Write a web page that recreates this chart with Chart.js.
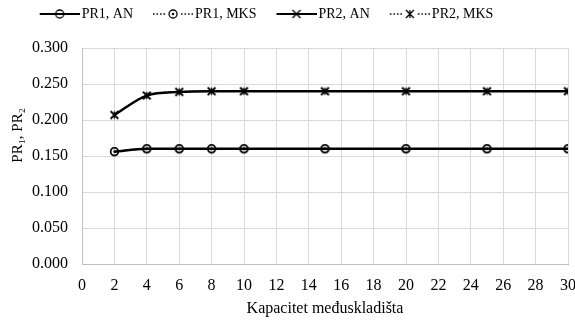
<!DOCTYPE html>
<html>
<head>
<meta charset="utf-8">
<script src="https://cdn.jsdelivr.net/npm/chart.js@4"></script>
<style>
  html, body { margin: 0; padding: 0; background: #fff; overflow: hidden; }
  #wrap { width: 588px; height: 320px; }
</style>
</head>
<body>
<div id="wrap"><canvas id="chart"></canvas></div>
<script>
// data
const capacity = [2, 4, 6, 8, 10, 15, 20, 25, 30];
const pr1An  = [0.156, 0.160, 0.160, 0.160, 0.160, 0.160, 0.160, 0.160, 0.160];
const pr1Mks = [0.156, 0.160, 0.160, 0.160, 0.160, 0.160, 0.160, 0.160, 0.160];
const pr2An  = [0.207, 0.234, 0.239, 0.240, 0.240, 0.240, 0.240, 0.240, 0.240];
const pr2Mks = [0.207, 0.234, 0.239, 0.240, 0.240, 0.240, 0.240, 0.240, 0.240];
const seriesNames = ['PR1, AN', 'PR1, MKS', 'PR2, AN', 'PR2, MKS'];

const FONT = "'Liberation Serif', 'Times New Roman', serif";

// marker drawing helpers
function drawMarker(ctx, kind, cx, cy, r) {
    ctx.strokeStyle = '#000';
    ctx.lineWidth = 1.3;
    ctx.beginPath();
    if (kind === 'circle' || kind === 'circleDot') {
        ctx.arc(cx, cy, r, 0, Math.PI * 2);
        ctx.stroke();
        if (kind === 'circleDot') {
            ctx.beginPath();
            ctx.arc(cx, cy, 1.2, 0, Math.PI * 2);
            ctx.fillStyle = '#000';
            ctx.fill();
        }
    } else {
        ctx.moveTo(cx - r, cy - r); ctx.lineTo(cx + r, cy + r);
        ctx.moveTo(cx - r, cy + r); ctx.lineTo(cx + r, cy - r);
        if (kind === 'star') {
            ctx.moveTo(cx, cy - r); ctx.lineTo(cx, cy + r);
        }
        ctx.stroke();
    }
}

function markerImage(kind) {
    const c = document.createElement('canvas');
    c.width = 11; c.height = 11;
    drawMarker(c.getContext('2d'), kind, 5.5, 5.5, 3.8);
    return c;
}

// legend symbol: line + marker, drawn in the right 40px of a 60px image
function legendImage(kind, dotted) {
    const c = document.createElement('canvas');
    c.width = 60; c.height = 14;
    const ctx = c.getContext('2d');
    ctx.strokeStyle = '#000';
    ctx.lineWidth = dotted ? 1.5 : 2.2;
    ctx.setLineDash(dotted ? [1.5, 2] : []);
    ctx.beginPath();
    ctx.moveTo(20, 7); ctx.lineTo(60, 7);
    ctx.stroke();
    ctx.setLineDash([]);
    if (dotted) {
        ctx.fillStyle = '#fff';
        ctx.fillRect(34, 1, 12, 12);
    }
    drawMarker(ctx, kind, 40, 7, 4);
    return c;
}

const kinds = ['circle', 'circleDot', 'crossRot', 'star'];
const dotted = [false, true, false, true];
const legendImgs = kinds.map((k, i) => legendImage(k, dotted[i]));

function toXY(values) {
    return capacity.map((x, i) => ({ x: x, y: values[i] }));
}

function lineSet(label, values, i) {
    return {
        label: label,
        data: toXY(values),
        borderColor: '#000',
        borderWidth: dotted[i] ? 1.5 : 2.4,
        borderDash: dotted[i] ? [1.5, 2] : [],
        backgroundColor: 'rgba(0,0,0,0)',
        cubicInterpolationMode: 'monotone',
        pointStyle: markerImage(kinds[i]),
        pointRadius: 4,
        fill: false
    };
}

// move the legend row up and to the left, like the original
const legendShift = {
    id: 'legendShift',
    afterLayout(chart) {
        chart.legend.left -= 35;
        chart.legend.right -= 35;
        chart.legend.top -= 17;
        chart.legend.bottom -= 17;
    }
};

new Chart(document.getElementById('chart'), {
    type: 'line',
    data: {
        datasets: [
            lineSet(seriesNames[0], pr1An, 0),
            lineSet(seriesNames[1], pr1Mks, 1),
            lineSet(seriesNames[2], pr2An, 2),
            lineSet(seriesNames[3], pr2Mks, 3)
        ]
    },
    options: {
        responsive: true,
        maintainAspectRatio: false,
        animation: false,
        layout: { padding: { top: 19, right: 0, bottom: 2, left: 0 } },
        plugins: {
            tooltip: { enabled: false },
            legend: {
                position: 'top',
                labels: {
                    usePointStyle: true,
                    pointStyleWidth: 50,
                    padding: 5,
                    color: '#000',
                    font: { family: FONT, size: 14 },
                    generateLabels: (chart) => chart.data.datasets.map((ds, i) => ({
                        text: ds.label,
                        pointStyle: legendImgs[i],
                        fillStyle: '#000',
                        strokeStyle: '#000',
                        lineWidth: 0,
                        datasetIndex: i,
                        fontColor: '#000'
                    }))
                }
            }
        },
        scales: {
            x: {
                type: 'linear',
                min: 0,
                max: 30,
                afterFit: (scale) => { scale.height = 54; },
                ticks: {
                    stepSize: 2,
                    color: '#000',
                    padding: 12,
                    font: { family: FONT, size: 16 }
                },
                grid: { color: '#d9d9d9', drawTicks: false },
                border: { color: '#bfbfbf' },
                title: {
                    display: true,
                    text: 'Kapacitet međuskladišta',
                    color: '#000',
                    font: { family: FONT, size: 16 },
                    padding: { top: 0, bottom: 0 }
                }
            },
            y: {
                min: 0,
                max: 0.3,
                afterFit: (scale) => { scale.width = 82; },
                ticks: {
                    stepSize: 0.05,
                    color: '#000',
                    padding: 14,
                    font: { family: FONT, size: 16 },
                    callback: (v) => v.toFixed(3)
                },
                grid: { color: '#d9d9d9', drawTicks: false },
                border: { color: '#bfbfbf' },
                title: {
                    display: true,
                    // leading spaces lift the rotated title a little above the middle
                    text: '           PR₁, PR₂',
                    color: '#000',
                    font: { family: FONT, size: 15 },
                    padding: { top: 9, bottom: 4 }
                }
            }
        }
    },
    plugins: [legendShift]
});
</script>
</body>
</html>
